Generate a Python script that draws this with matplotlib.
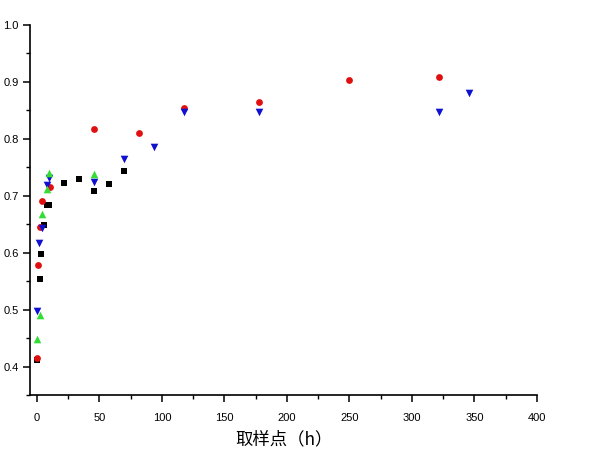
import matplotlib
matplotlib.use("Agg")
import matplotlib.pyplot as plt
from matplotlib.ticker import MultipleLocator, FormatStrFormatter

plt.rcParams['font.family'] = ['Liberation Sans', 'Noto Sans CJK SC', 'DejaVu Sans']

# Series data (time in h, value)
black_x = [0, 2.5, 3.3, 5.7, 8, 10, 22, 34, 46, 58, 70]
black_y = [0.411, 0.553, 0.598, 0.648, 0.684, 0.684, 0.722, 0.729, 0.709, 0.720, 0.744]

red_x = [0, 1, 2.5, 4, 10.5, 46, 82, 118, 178, 250, 322]
red_y = [0.415, 0.578, 0.645, 0.690, 0.715, 0.818, 0.810, 0.854, 0.864, 0.904, 0.909]

blue_x = [0, 1.5, 4, 8, 10, 46, 70, 94, 118, 178, 322, 346]
blue_y = [0.498, 0.617, 0.643, 0.718, 0.731, 0.724, 0.765, 0.785, 0.847, 0.847, 0.847, 0.881]

green_x = [0, 2.5, 4, 8, 10, 46]
green_y = [0.449, 0.491, 0.668, 0.712, 0.740, 0.739]

xlabel = "取样点（h）"

fig = plt.figure(figsize=(6.0, 4.53), dpi=100)
ax = fig.add_axes([0.05, 0.128, 0.845, 0.817])

ms = 20
ax.scatter(black_x, black_y, marker='s', s=ms, color='black', linewidths=0, zorder=3)
ax.scatter(red_x, red_y, marker='o', s=ms + 4, color='#e01010', linewidths=0, zorder=3)
ax.scatter(blue_x, blue_y, marker='v', s=ms + 10, color='#1010d0', linewidths=0, zorder=3)
ax.scatter(green_x, green_y, marker='^', s=ms + 10, color='#33dd33', linewidths=0, zorder=3)

ax.set_xlim(-5.5, 400)
ax.set_ylim(0.35, 1.0)
ax.xaxis.set_major_locator(MultipleLocator(50))
ax.xaxis.set_minor_locator(MultipleLocator(25))
ax.yaxis.set_minor_locator(MultipleLocator(0.05))
ax.set_yticks([0.4, 0.5, 0.6, 0.7, 0.8, 0.9, 1.0])
ax.yaxis.set_major_formatter(FormatStrFormatter('%.1f'))

for s in ['top', 'right']:
    ax.spines[s].set_visible(False)
for s in ['left', 'bottom']:
    ax.spines[s].set_linewidth(1.2)

ax.tick_params(axis='both', which='major', direction='out', length=5, width=1.1, labelsize=8)
ax.tick_params(axis='y', which='major', pad=3)
ax.tick_params(axis='x', which='major', pad=8)
ax.tick_params(axis='both', which='minor', direction='out', length=3, width=1.0)

ax.set_xlabel(xlabel, fontsize=12.5, family=['Noto Sans CJK SC', 'DejaVu Sans'], labelpad=5)

fig.savefig("out.png", dpi=100)
